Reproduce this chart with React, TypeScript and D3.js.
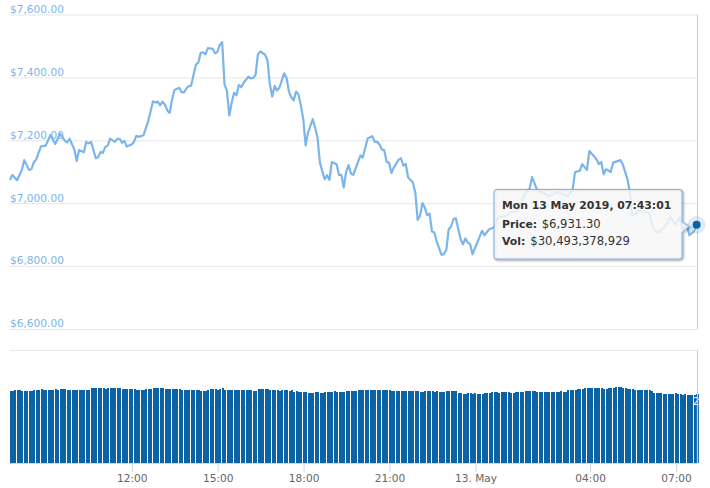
import * as d3 from "d3";
import { useEffect, useRef } from "react";

// [sample number (one every ~5 min), price in USD]
const pricePoints: [number, number][] = [
  [0, 7074], [1, 7090], [3, 7073], [5, 7106], [6, 7137], [8, 7106], [9, 7108], [10, 7130], [11, 7139], [13, 7181],
  [15, 7183], [17, 7217], [19, 7188], [21, 7221], [23, 7199], [24, 7193], [25, 7205], [27, 7171], [28, 7134], [29, 7169],
  [31, 7162], [32, 7195], [33, 7190], [34, 7195], [36, 7143], [37, 7146], [38, 7163], [39, 7160], [40, 7179], [41, 7183],
  [42, 7205], [44, 7195], [45, 7205], [46, 7205], [47, 7192], [48, 7198], [49, 7180], [51, 7187], [52, 7195], [53, 7214],
  [54, 7211], [56, 7216], [58, 7261], [60, 7324], [61, 7320], [62, 7323], [63, 7311], [64, 7323], [65, 7313], [66, 7295],
  [67, 7287], [68, 7330], [69, 7360], [71, 7367], [72, 7353], [73, 7352], [74, 7365], [75, 7372], [76, 7374], [78, 7441],
  [79, 7447], [80, 7478], [81, 7480], [82, 7473], [83, 7493], [85, 7491], [86, 7477], [87, 7481], [88, 7503], [89, 7512],
  [90, 7378], [91, 7357], [92, 7279], [93, 7320], [94, 7351], [95, 7343], [96, 7376], [97, 7369], [98, 7383], [100, 7402],
  [101, 7397], [102, 7398], [103, 7408], [104, 7473], [105, 7483], [107, 7472], [108, 7455], [109, 7378], [110, 7339], [111, 7373],
  [112, 7358], [113, 7367], [115, 7413], [116, 7399], [117, 7355], [118, 7337], [119, 7327], [120, 7355], [121, 7346], [122, 7311],
  [123, 7269], [124, 7184], [125, 7224], [127, 7267], [128, 7240], [129, 7209], [130, 7129], [132, 7076], [133, 7089], [134, 7074],
  [135, 7131], [137, 7124], [138, 7090], [139, 7090], [140, 7050], [141, 7100], [142, 7121], [143, 7094], [144, 7090], [147, 7152],
  [148, 7145], [150, 7206], [152, 7213], [153, 7195], [154, 7195], [155, 7187], [156, 7171], [157, 7168], [158, 7131], [159, 7129],
  [160, 7096], [161, 7113], [163, 7138], [164, 7143], [165, 7119], [166, 7125], [167, 7082], [169, 7066], [170, 7034], [171, 6947],
  [172, 6960], [173, 7000], [174, 6986], [175, 6962], [176, 6967], [177, 6910], [178, 6907], [179, 6878], [181, 6836], [182, 6838],
  [183, 6851], [184, 6917], [185, 6926], [186, 6949], [187, 6952], [189, 6886], [190, 6869], [191, 6888], [192, 6875], [193, 6870],
  [194, 6838], [196, 6875], [198, 6912], [199, 6898], [201, 6917], [203, 6923], [205, 6956], [208, 6959], [210, 6971], [213, 6975],
  [215, 7013], [216, 7029], [218, 7048], [219, 7083], [221, 7044], [226, 7022], [230, 7035], [234, 7022], [236, 7044], [237, 7099],
  [239, 7103], [240, 7124], [242, 7106], [243, 7166], [246, 7140], [247, 7124], [248, 7131], [249, 7092], [250, 7108], [252, 7099],
  [253, 7129], [256, 7137], [257, 7124], [259, 7076], [260, 7034], [261, 6960], [264, 6976], [268, 6970], [270, 6917], [272, 6907],
  [275, 6928], [277, 6955], [279, 6933], [281, 6955], [282, 6917], [284, 6928], [285, 6898], [287, 6912], [288, 6931.3],
];

// one column per sample, in billions of USD
const volumes = [
  31.9, 31.9, 32.3, 32.3, 32.3, 31.9, 31.9, 31.9, 31.9, 31.9, 32.3, 32.3, 32.3, 32.7, 32.3, 32.3, 32.3, 32.3, 32.3, 32.7,
  32.3, 32.7, 32.7, 32.7, 32.3, 32.3, 32.3, 32.3, 32.3, 32.3, 32.3, 32.3, 32.3, 32.3, 33.2, 33.2, 33.2, 33.2, 33.2, 33.2,
  32.7, 33.2, 33.2, 33.2, 33.2, 33.2, 33.2, 32.7, 32.7, 32.7, 32.7, 32.7, 32.7, 32.3, 32.3, 32.3, 32.3, 32.7, 32.7, 32.7,
  33.2, 33.2, 33.2, 33.2, 33.2, 32.7, 32.7, 32.7, 32.7, 32.7, 32.7, 32.7, 32.3, 32.3, 32.3, 32.3, 32.3, 32.3, 32.3, 32.3,
  31.9, 31.9, 31.9, 32.3, 32.7, 32.7, 32.7, 32.3, 32.7, 33.2, 32.3, 32.3, 32.3, 32.3, 32.3, 32.3, 32.3, 32.3, 32.3, 32.3,
  32.3, 32.3, 31.9, 31.9, 32.7, 32.7, 32.7, 32.7, 32.7, 32.3, 32.3, 32.3, 32.3, 31.9, 32.3, 32.3, 32.3, 31.9, 32.3, 31.4,
  31.9, 31.4, 31.4, 31.4, 31.4, 31.0, 31.0, 31.0, 31.4, 31.4, 31.0, 31.0, 31.4, 31.4, 31.4, 31.4, 31.9, 31.4, 31.4, 31.4,
  31.4, 31.9, 31.9, 31.9, 31.9, 31.9, 32.3, 32.3, 32.3, 32.3, 32.3, 32.3, 32.3, 32.3, 32.3, 32.3, 32.3, 32.3, 32.3, 32.3,
  31.9, 31.9, 31.9, 31.9, 31.9, 31.9, 31.9, 31.9, 31.9, 31.9, 31.9, 31.9, 31.4, 31.4, 31.9, 31.9, 31.9, 31.9, 31.4, 31.9,
  31.4, 31.4, 31.4, 31.9, 31.9, 31.9, 31.9, 31.9, 31.0, 31.0, 30.5, 30.5, 31.0, 31.0, 30.5, 31.0, 30.5, 30.5, 30.5, 31.0,
  31.0, 31.0, 31.4, 31.4, 31.4, 31.0, 31.4, 31.4, 31.4, 31.4, 31.0, 31.0, 31.4, 31.4, 31.4, 31.4, 31.9, 31.9, 31.9, 31.9,
  31.9, 31.4, 31.4, 31.4, 31.4, 31.4, 31.4, 31.4, 31.4, 31.4, 31.4, 31.9, 31.4, 31.4, 32.3, 32.3, 32.3, 32.3, 32.7, 32.7,
  32.7, 33.2, 33.2, 33.2, 33.2, 33.2, 33.2, 33.2, 33.2, 32.7, 32.7, 33.2, 33.2, 33.2, 33.6, 33.6, 33.6, 33.2, 33.2, 32.7,
  32.7, 32.7, 32.3, 32.3, 32.3, 32.3, 32.3, 32.3, 32.3, 31.9, 31.0, 31.0, 31.0, 31.0, 30.5, 30.5, 30.5, 30.5, 30.5, 31.0,
  30.5, 30.5, 30.1, 30.5, 30.1, 30.1, 30.1, 30.1, 30.49,
];

const priceTicks = [6600, 6800, 7000, 7200, 7400, 7600];
const timeTicks = [
  new Date(Date.UTC(2019, 4, 12, 12)),
  new Date(Date.UTC(2019, 4, 12, 15)),
  new Date(Date.UTC(2019, 4, 12, 18)),
  new Date(Date.UTC(2019, 4, 12, 21)),
  new Date(Date.UTC(2019, 4, 13, 0)),
  new Date(Date.UTC(2019, 4, 13, 4)),
  new Date(Date.UTC(2019, 4, 13, 7)),
];
const timeLabels = ["12:00", "15:00", "18:00", "21:00", "13. May", "04:00", "07:00"];
const tooltipDate = "Mon 13 May 2019, 07:43:01";
const tooltipPrice = "$6,931.30";
const tooltipVol = "$30,493,378,929";

const FONT = "'DejaVu Sans', sans-serif";
const BLUE = "#7cb5ec";
const DARK = "#0b62a4";
const firstSample = Date.UTC(2019, 4, 12, 7, 45);
const sampleMs = 299600;
const sampleTime = (i: number) => new Date(firstSample + i * sampleMs);

export default function App() {
  const svgRef = useRef<SVGSVGElement>(null);

  useEffect(() => {
    const svg = d3.select(svgRef.current);
    svg.selectAll("*").remove();

    const x = d3.scaleUtc()
      .domain([new Date(Date.UTC(2019, 4, 12, 7, 43)), new Date(Date.UTC(2019, 4, 13, 7, 43, 1))])
      .range([9, 696.6]);
    const y = d3.scaleLinear().domain([6600, 7600]).range([329, 14.5]);
    const yVol = d3.scaleLinear().domain([0, 50]).range([463, 350]);

    // price grid + labels
    const priceAxis = svg.append("g")
      .attr("transform", "translate(10,0)")
      .call(d3.axisRight(y)
        .tickValues(priceTicks)
        .tickSize(687)
        .tickFormat((d) => "$" + d3.format(",.2f")(d as number)));
    priceAxis.select(".domain").remove();
    priceAxis.selectAll(".tick line").attr("stroke", "#e6e6e6");
    priceAxis.selectAll(".tick text")
      .attr("x", 0)
      .attr("dy", -2.2)
      .attr("text-anchor", "start")
      .attr("fill", BLUE)
      .attr("font-family", FONT)
      .attr("font-size", 10.6);

    // volume panel frame
    [0, 25, 50].forEach((v) => {
      svg.append("line")
        .attr("x1", 10)
        .attr("x2", 697)
        .attr("y1", Math.round(yVol(v)) + 0.5)
        .attr("y2", Math.round(yVol(v)) + 0.5)
        .attr("stroke", "#e6e6e6");
    });

    // volume columns, 2px wide on whole pixels
    svg.append("g")
      .selectAll("rect")
      .data(volumes)
      .join("rect")
      .attr("x", (_, i) => Math.round(x(sampleTime(i)) - 0.4))
      .attr("y", (d) => Math.round(yVol(d)))
      .attr("width", (_, i) => (i === volumes.length - 1 ? 3 : 2))
      .attr("height", (d) => 463 - Math.round(yVol(d)))
      .attr("fill", (_, i) => (i === volumes.length - 1 ? "#2277b8" : DARK))
      .attr("shape-rendering", "crispEdges");

    svg.append("text")
      .attr("x", 692.5)
      .attr("y", 405)
      .attr("fill", "#fff")
      .attr("font-family", FONT)
      .attr("font-size", 11)
      .text("2");

    // time axis
    const timeAxis = svg.append("g")
      .attr("transform", "translate(0,463)")
      .call(d3.axisBottom(x)
        .tickValues(timeTicks)
        .tickSize(9)
        .tickPadding(2)
        .tickFormat((_, i) => timeLabels[i]));
    timeAxis.select(".domain")
      .attr("d", "M10,0.5H698")
      .attr("stroke", "#ccd6eb");
    timeAxis.selectAll(".tick line").attr("stroke", "#ccd6eb");
    timeAxis.selectAll(".tick text")
      .attr("fill", "#666")
      .attr("font-family", FONT)
      .attr("font-size", 10.6);

    // hover crosshair
    const last = pricePoints[pricePoints.length - 1];
    const hoverX = x(sampleTime(last[0]));
    [[14.5, 329], [350, 463]].forEach(([a, b]) => {
      svg.append("line")
        .attr("x1", 697.5)
        .attr("x2", 697.5)
        .attr("y1", a)
        .attr("y2", b)
        .attr("stroke", "#cccccc");
    });

    // price line
    const line = d3.line<[number, number]>()
      .x((d) => x(sampleTime(d[0])))
      .y((d) => y(d[1]))
      .curve(d3.curveLinear);
    svg.append("path")
      .attr("d", line(pricePoints))
      .attr("fill", "none")
      .attr("stroke", BLUE)
      .attr("stroke-width", 2.2)
      .attr("stroke-linejoin", "round");

    // hovered point
    svg.append("circle")
      .attr("cx", hoverX)
      .attr("cy", y(last[1]))
      .attr("r", 9)
      .attr("fill", BLUE)
      .attr("opacity", 0.25);
    svg.append("circle")
      .attr("cx", hoverX)
      .attr("cy", y(last[1]))
      .attr("r", 4)
      .attr("fill", DARK);

    // tooltip
    const box = "M497,189.5H679a3,3 0 0 1 3,3V222L689,226.5L682,232V256a3,3 0 0 1 -3,3H497a3,3 0 0 1 -3,-3V192.5a3,3 0 0 1 3,-3Z";
    const tip = svg.append("g");
    [[0.05, 5], [0.1, 3], [0.15, 1]].forEach(([o, w]) => {
      tip.append("path")
        .attr("d", box)
        .attr("transform", "translate(1,1)")
        .attr("fill", "none")
        .attr("stroke", "#000")
        .attr("stroke-opacity", o)
        .attr("stroke-width", w);
    });
    tip.append("path")
      .attr("d", box)
      .attr("fill", "#f7f7f7")
      .attr("fill-opacity", 0.85)
      .attr("stroke", BLUE)
      .attr("stroke-width", 1);

    const text = tip.append("text")
      .attr("font-family", FONT)
      .attr("font-size", 11.6)
      .attr("fill", "#333");
    text.append("tspan").attr("x", 502).attr("y", 209).attr("font-size", 10.85).attr("font-weight", "bold").text(tooltipDate);
    text.append("tspan").attr("x", 502).attr("y", 227.5).attr("font-size", 10.85).attr("font-weight", "bold").text("Price:");
    text.append("tspan").attr("dx", 4.5).text(tooltipPrice);
    text.append("tspan").attr("x", 502).attr("y", 245).attr("font-size", 10.85).attr("font-weight", "bold").text("Vol:");
    text.append("tspan").attr("dx", 5).text(tooltipVol);
  }, []);

  return (
    <svg
      ref={svgRef}
      width={710}
      height={488}
      style={{ position: "absolute", left: 0, top: 0, display: "block", background: "#fff" }}
    />
  );
}
